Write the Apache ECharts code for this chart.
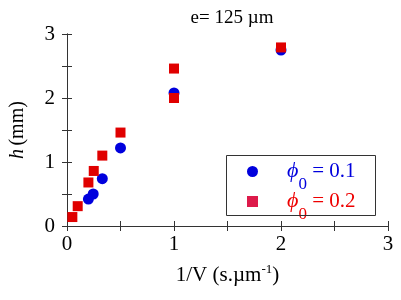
<!DOCTYPE html>
<html><head><meta charset="utf-8">
<script src="https://cdn.jsdelivr.net/npm/echarts@6/dist/echarts.min.js"></script>
<style>html,body{margin:0;padding:0;background:#fff}#c{width:401px;height:300px}</style>
</head><body><div id="c"></div>
<script>
const titleText = 'e= 125 µm';
const xTickLabels = [0, 1, 2, 3];
const yTickLabels = [0, 1, 2, 3];
const phi01X = [0.2, 0.245, 0.33, 0.5, 1.0, 2.0];
const phi01Y = [0.42, 0.5, 0.74, 1.22, 2.08, 2.75];
const phi02X = [0.05, 0.1, 0.2, 0.25, 0.33, 0.5, 1.0, 1.0, 2.0];
const phi02Y = [0.14, 0.31, 0.68, 0.86, 1.1, 1.46, 2.46, 2.0, 2.79];
const seriesNames = ['phi01', 'phi02'];
const seriesLabels = ['0.1', '0.2'];

const FONT = '"Liberation Serif","Times New Roman",serif';
const axisCol = '#333';
const zip = (xs, ys) => xs.map((x, i) => [x, ys[i]]);
const fmt = (v) => (xTickLabels.indexOf(v) >= 0 ? String(v) : '');
const fmtY = (v) => (yTickLabels.indexOf(v) >= 0 ? String(v) : '');

function richFor(color) {
  return {
    sp: { width: 24 },
    phi: { fontFamily: FONT, fontStyle: 'italic', fontSize: 22, color: color, lineHeight: 28 },
    sub: { fontFamily: FONT, fontSize: 17, color: color, lineHeight: 2, padding: [26, 0, 0, 0] },
    eq: { fontFamily: FONT, fontSize: 21, color: color, lineHeight: 28 }
  };
}

const baseAxis = {
  min: 0, max: 3, interval: 0.5,
  axisLine: { show: true, lineStyle: { color: axisCol, width: 1 } },
  axisTick: { show: true, inside: true, length: 5, lineStyle: { color: axisCol } },
  splitLine: { show: false }
};

const chart = echarts.init(document.getElementById('c'), null, { renderer: 'canvas' });
chart.setOption({
  animation: false,
  backgroundColor: '#fff',
  title: {
    text: titleText, left: 227, top: 4, textAlign: 'center',
    textStyle: { fontFamily: FONT, fontSize: 19, fontWeight: 'normal', color: '#000' }
  },
  grid: { left: 67, right: 13, top: 34, bottom: 74 },
  graphic: [{
    type: 'rect', shape: { x: 226.5, y: 155.5, width: 149, height: 60 },
    style: { fill: 'none', stroke: '#333', lineWidth: 1 }, z: 10
  }],
  legend: {
    orient: 'vertical', left: 227, top: 150,
    itemWidth: 11, itemHeight: 11, itemGap: -13,
    padding: [0, 0, 0, 20],
    data: [
      { name: seriesNames[0], icon: 'circle', itemStyle: { color: '#0000dd' }, textStyle: { rich: richFor('#0000dd') } },
      { name: seriesNames[1], icon: 'rect', itemStyle: { color: '#dd1a4a' }, textStyle: { rich: richFor('#ee0000') } }
    ],
    formatter: (name) => {
      const i = seriesNames.indexOf(name);
      return '{sp| }{phi|ϕ}{sub|0}{eq| = ' + seriesLabels[i] + '}';
    }
  },
  xAxis: [
    Object.assign({}, baseAxis, {
      type: 'value', position: 'bottom',
      axisLabel: { formatter: fmt, fontFamily: FONT, fontSize: 21, color: '#000', margin: 8 },
      name: '{a|1/V (s.µm}{s|-1}{a|)}', nameLocation: 'middle', nameGap: 37,
      nameTextStyle: { rich: {
        a: { fontFamily: FONT, fontSize: 21, color: '#000' },
        s: { fontFamily: FONT, fontSize: 13, color: '#000', verticalAlign: 'top', lineHeight: 24 }
      } }
    }),
    Object.assign({}, baseAxis, { type: 'value', position: 'top', axisLabel: { show: false } })
  ],
  yAxis: [
    Object.assign({}, baseAxis, {
      type: 'value', position: 'left',
      axisLabel: { formatter: fmtY, fontFamily: FONT, fontSize: 21, color: '#000', margin: 12 },
      name: '{i|h} {a|(mm)}', nameLocation: 'middle', nameGap: 39, nameRotate: 90,
      nameTextStyle: { rich: {
        i: { fontFamily: FONT, fontSize: 20, fontStyle: 'italic', color: '#000' },
        a: { fontFamily: FONT, fontSize: 20, color: '#000' }
      } }
    }),
    Object.assign({}, baseAxis, { type: 'value', position: 'right', axisLabel: { show: false } })
  ],
  series: [
    { name: seriesNames[0], type: 'scatter', symbol: 'circle', symbolSize: 11, z: 2,
      itemStyle: { color: '#0000dd', opacity: 1 }, data: zip(phi01X, phi01Y) },
    { name: seriesNames[1], type: 'scatter', symbol: 'rect', symbolSize: 10, z: 3,
      itemStyle: { color: '#e00000', opacity: 1 }, data: zip(phi02X, phi02Y) }
  ]
});
</script></body></html>
